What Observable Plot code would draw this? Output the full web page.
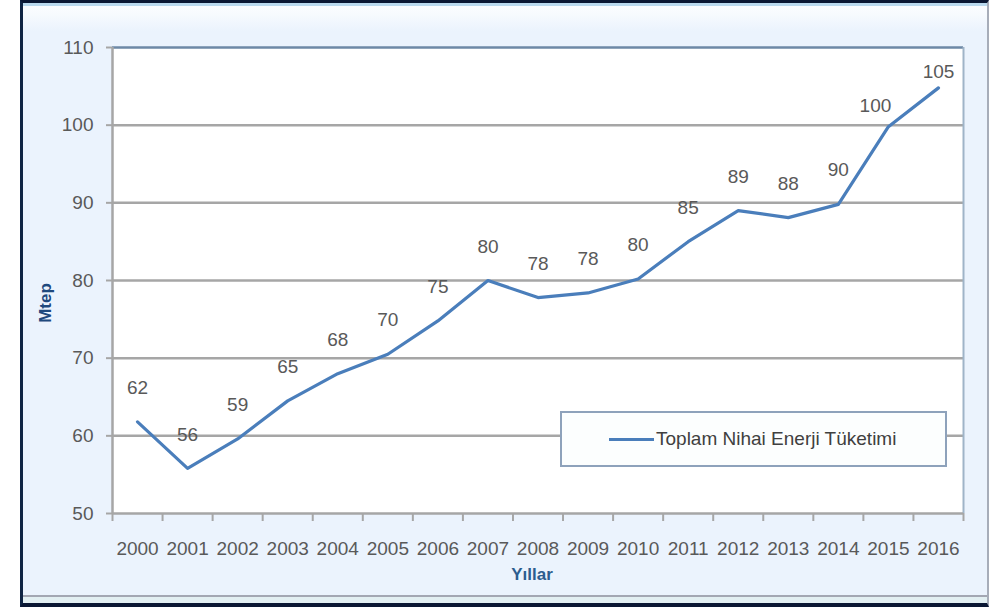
<!DOCTYPE html>
<html><head><meta charset="utf-8">
<script src="https://cdn.jsdelivr.net/npm/d3@7"></script>
<script src="https://cdn.jsdelivr.net/npm/@observablehq/plot@0.6"></script>
<style>
body{margin:0;background:#fff;width:996px;height:607px;overflow:hidden;font-family:"Liberation Sans",Arial,sans-serif;}
#wrap{position:relative;width:996px;height:607px;}
#frame{position:absolute;left:20px;top:0;width:969px;height:607px;box-sizing:border-box;border-left:3px solid #0f2443;border-top:3px solid #0a1733;border-bottom:4px solid #0a1733;border-right:2px solid #a7adb9;background:linear-gradient(#b9d9ee 0,#b9d9ee 3px,#fbfdff 3px,#f6fafe 12px,#ebf3fd 28px,#ebf3fd 100%);}
#frameBottom{position:absolute;left:0;right:0;bottom:0;height:6px;background:#e2eff2;border-top:2px solid #a3a7b3;}
#chart{position:absolute;left:0;top:0;}
#legend{position:absolute;left:560px;top:411px;width:387px;height:56px;box-sizing:border-box;border:2px solid #8ea2bb;background:#fcfefe;}
#legend .sw{position:absolute;left:47px;top:25px;width:45px;height:3px;background:#4a7ebb;}
#legend .tx{position:absolute;left:94px;top:0;line-height:52px;font-size:19px;color:#404040;white-space:nowrap;}
.ttl{position:absolute;font-weight:bold;font-size:17px;color:#1f497d;white-space:nowrap;}
#ytitle{left:46px;top:303px;transform:translate(-50%,-50%) rotate(-90deg);}
#xtitle{left:532px;top:575px;transform:translate(-50%,-50%);color:#2c5d8f;}
</style></head>
<body>
<div id="wrap">
  <div id="frame"><div id="frameBottom"></div></div>
  <div id="chart"></div>
  <div id="legend"><div class="sw"></div><div class="tx">Toplam Nihai Enerji Tüketimi</div></div>
  <div class="ttl" id="ytitle">Mtep</div>
  <div class="ttl" id="xtitle">Yıllar</div>
</div>
<script>
const years = [2000,2001,2002,2003,2004,2005,2006,2007,2008,2009,2010,2011,2012,2013,2014,2015,2016];
const values = [61.8,55.8,59.6,64.5,68.0,70.5,74.8,80.0,77.8,78.4,80.2,85.0,89.0,88.1,89.8,99.8,104.8];
const labels = ["62","56","59","65","68","70","75","80","78","78","80","85","89","88","90","100","105"];
const yTicks = [50,60,70,80,90,100,110];
const xMin = 1999.5, xMax = 2016.5;

const table = years.map((year, i) => ({year, value: values[i], label: labels[i]}));
const boundaries = years.map(y => y - 0.5).concat([xMax]);
const n = table.length;

const chart = Plot.plot({
  width: 996, height: 607,
  marginLeft: 112, marginRight: 33, marginTop: 47, marginBottom: 94,
  style: {background: "transparent", fontFamily: '"Liberation Sans", Arial, sans-serif', fontSize: "19px", color: "#595959", overflow: "visible"},
  x: {type: "linear", domain: [xMin, xMax]},
  y: {domain: [yTicks[0], yTicks[yTicks.length - 1]]},
  marks: [
    Plot.frame({fill: "#ffffff", stroke: "none"}),
    Plot.ruleY(yTicks.slice(1, -1), {stroke: "#a6a6a6", strokeWidth: 2.5}),
    Plot.ruleY([yTicks[yTicks.length - 1]], {stroke: "#6d88a6", strokeWidth: 2.5}),
    Plot.ruleX([xMax], {stroke: "#9fb4c8", strokeWidth: 2}),
    Plot.ruleX([xMin], {stroke: "#a6a6a6", strokeWidth: 2.5}),
    Plot.ruleY([yTicks[0]], {stroke: "#a6a6a6", strokeWidth: 2.5}),
    Plot.axisY(yTicks, {tickSize: 6, tickPadding: 13, stroke: "#a6a6a6", strokeWidth: 2, fill: "#595959", label: null}),
    Plot.axisX(boundaries, {tickSize: 8, tickFormat: () => "", stroke: "#a6a6a6", strokeWidth: 2, label: null}),
    Plot.axisX(years, {tickSize: 0, tickPadding: 28, tickFormat: d => String(d), fill: "#595959", label: null}),
    Plot.line(table, {x: "year", y: "value", stroke: "#4a7ebb", strokeWidth: 3.2, strokeLinejoin: "round", curve: "linear"}),
    Plot.text(table.slice(0, n - 2), {x: "year", y: "value", text: "label", dy: -34, fill: "#595959"}),
    Plot.text(table.slice(n - 2, n - 1), {x: "year", y: "value", text: "label", dy: -21, dx: -13, fill: "#595959"}),
    Plot.text(table.slice(n - 1), {x: "year", y: "value", text: "label", dy: -16, fill: "#595959"})
  ]
});
document.getElementById("chart").appendChild(chart);
</script>
</body></html>
